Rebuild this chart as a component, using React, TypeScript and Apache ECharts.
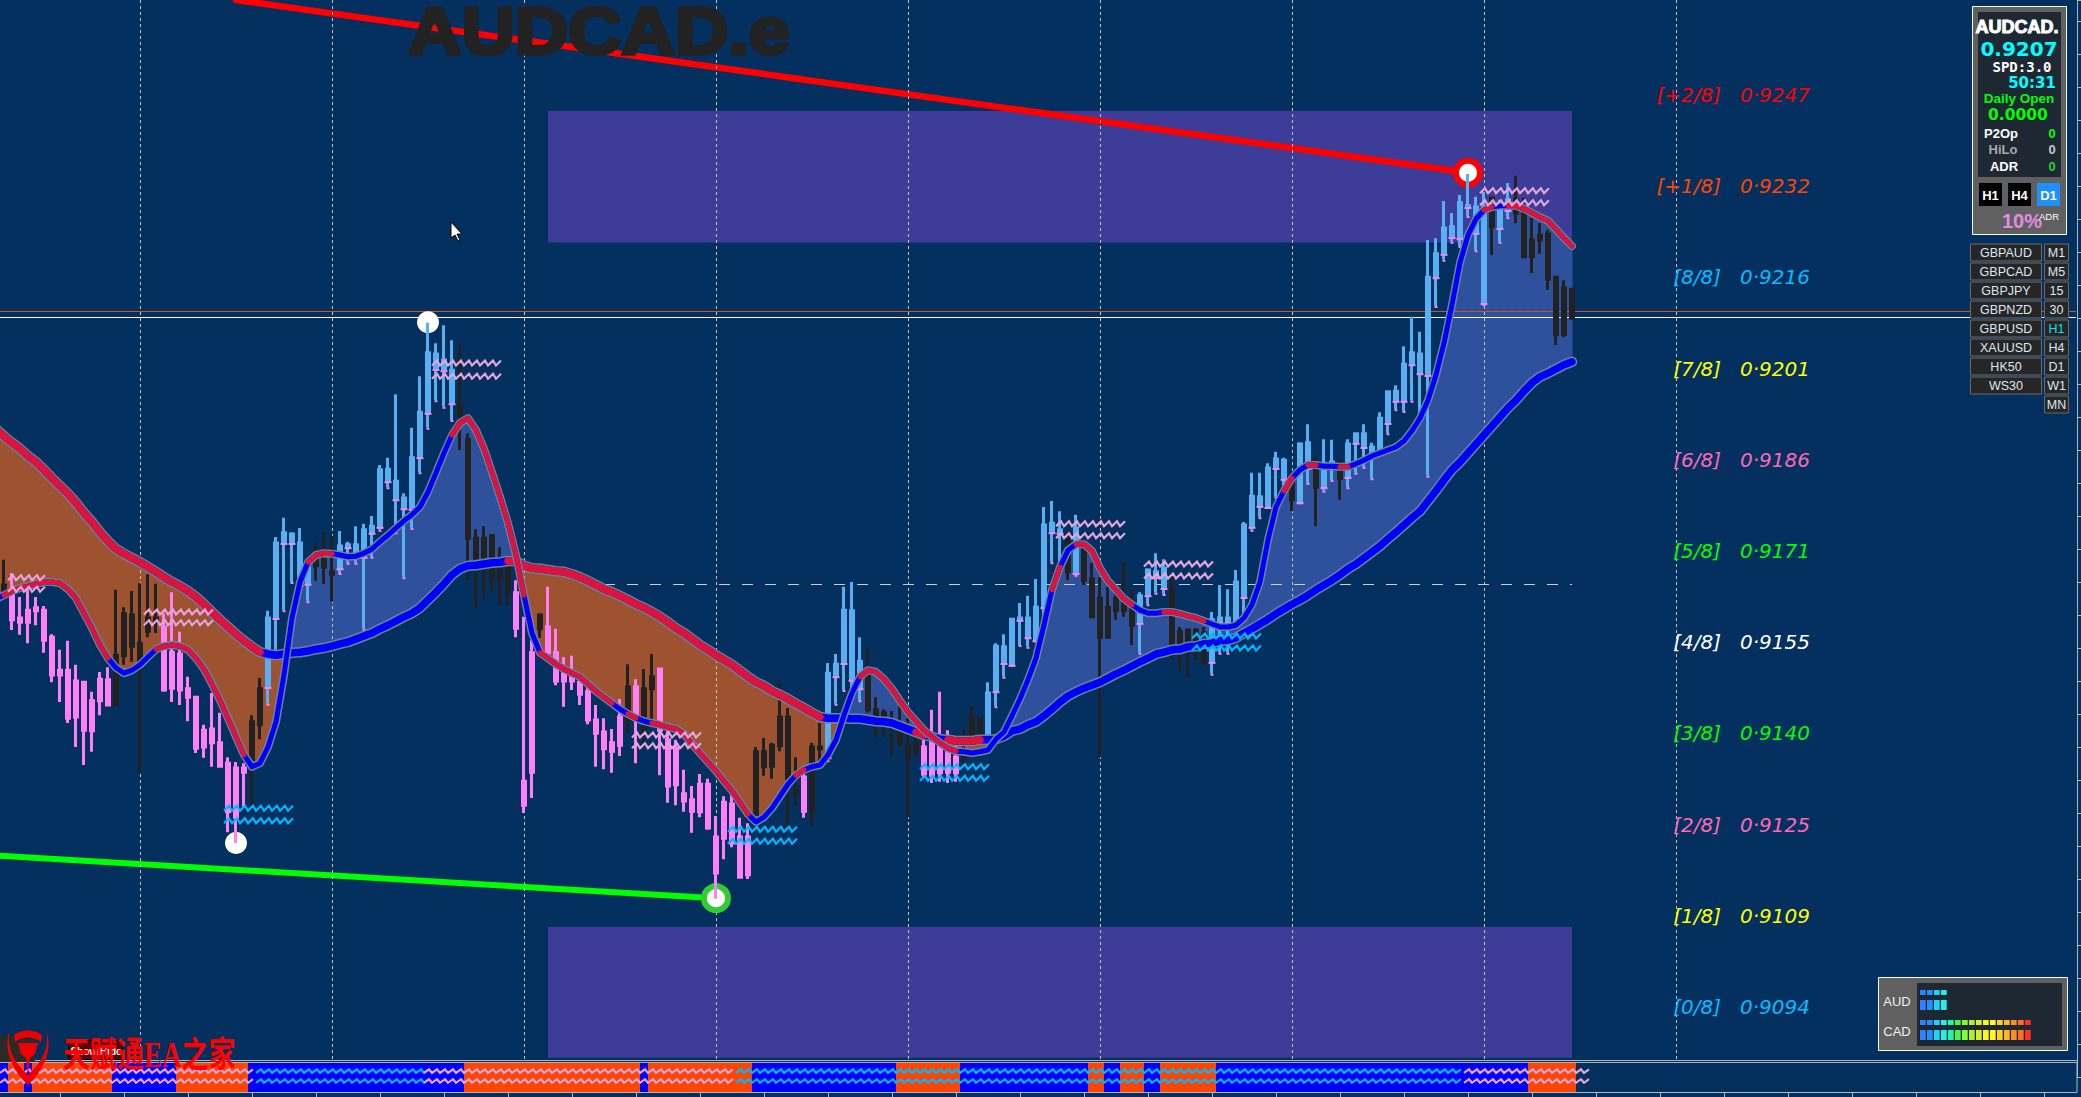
import React, { useEffect, useRef } from "react";
import * as echarts from "echarts";

const WIDTH = 2081;
const HEIGHT = 1097;
const LEAD_PX = 8;

// ---- Candle values, in points (1 point = 0.00001 of AUDCAD) ----
const candleKinds = (
  "kppppppppp" + "ppppkkkkkk" + "pppppppppp" + "pkkbbbbbbk" + "kkbbbbbbbb" +
  "bbbbbbbkkk" + "kkkkpppkpp" + "ppppppppkp" + "kkpppppppp" + "ppppkkkkkk" +
  "pkkbbbbbkk" + "kkkkkppppp" + "kkkbbbbbbb" + "bbbkbkkkkk" + "kkbbbbkkkk" +
  "kbbbbbbbbb" + "bkbbkbbkbb" + "bbbbbbbbbb" + "bbbbbbkbbk" + "kkkkkkk"
).split("");

const highs = [
  91667,91645,91605,91622,91605,91590,91543,91517,91532,91492,
  91463,91447,91480,91488,91617,91588,91615,91628,91643,91627,
  91578,91613,91547,91472,91438,91392,91445,91412,91338,91330,
  91328,91408,91470,91582,91705,91737,91713,91720,91658,91695,
  91713,91707,91715,91697,91723,91727,91740,91825,91837,91943,
  91778,91887,91973,92062,92028,92058,92033,92025,91878,91718,
  91723,91710,91688,91672,91633,91572,91533,91578,91622,91552,
  91505,91507,91463,91462,91425,91403,91385,91435,91493,91468,
  91485,91510,91485,91383,91367,91317,91290,91310,91302,91240,
  91273,91275,91237,91228,91355,91370,91362,91463,91420,91338,
  91312,91362,91395,91495,91510,91622,91630,91538,91520,91438,
  91418,91415,91423,91403,91403,91375,91417,91447,91383,91367,
  91385,91422,91402,91463,91528,91543,91570,91595,91607,91635,
  91755,91765,91748,91705,91742,91695,91662,91638,91622,91620,
  91662,91617,91613,91653,91678,91668,91638,91555,91550,91553,
  91555,91580,91625,91618,91650,91730,91812,91812,91828,91847,
  91837,91800,91863,91893,91838,91868,91867,91835,91868,91877,
  91893,91862,91913,91947,91958,92023,92072,92047,92200,92203,
  92265,92245,92275,92310,92272,92280,92270,92267,92295,92307,
  92270,92237,92228,92217,92140,92133,92120,
];
const bodyTops = [
  91625,91608,91570,91583,91587,91583,91538,91483,91483,91465,
  91463,91432,91468,91467,91508,91577,91575,91528,91570,91570,
  91555,91513,91510,91452,91438,91383,91385,91362,91328,91320,
  91320,91397,91452,91570,91695,91712,91710,91695,91658,91667,
  91668,91647,91690,91692,91692,91717,91723,91817,91818,91798,
  91770,91837,91913,92012,92010,92000,91983,91923,91868,91703,
  91703,91707,91655,91667,91612,91298,91512,91575,91555,91512,
  91477,91472,91463,91447,91400,91380,91362,91405,91455,91455,
  91452,91472,91485,91367,91353,91277,91267,91293,91293,91205,
  91263,91260,91205,91205,91347,91347,91358,91405,91405,91283,
  91305,91355,91355,91478,91493,91583,91582,91498,91483,91417,
  91412,91400,91388,91355,91362,91355,91363,91355,91355,91338,
  91348,91405,91402,91445,91523,91522,91568,91570,91570,91588,
  91725,91728,91717,91703,91720,91692,91635,91603,91588,91603,
  91600,91587,91607,91650,91647,91653,91620,91548,91550,91550,
  91545,91567,91570,91570,91630,91725,91773,91772,91820,91835,
  91833,91800,91860,91862,91828,91828,91830,91825,91860,91877,
  91877,91855,91903,91947,91948,91993,92012,92010,92138,92177,
  92220,92222,92262,92257,92255,92255,92270,92258,92267,92267,
  92247,92200,92208,92210,92138,92120,92118,
];
const bodyBottoms = [
  91612,91567,91563,91563,91582,91533,91475,91475,91403,91405,
  91383,91382,91432,91425,91425,91507,91523,91487,91548,91563,
  91450,91453,91450,91438,91353,91355,91362,91323,91247,91238,
  91313,91322,91392,91455,91570,91695,91695,91625,91627,91657,
  91655,91643,91653,91688,91672,91672,91712,91722,91798,91768,
  91753,91752,91838,91912,91985,91983,91928,91908,91703,91670,
  91673,91635,91637,91612,91553,91258,91313,91552,91512,91465,
  91465,91465,91443,91400,91378,91352,91348,91358,91400,91400,
  91380,91452,91383,91290,91292,91265,91248,91247,91220,91145,
  91203,91195,91138,91142,91242,91322,91323,91357,91303,91278,
  91248,91247,91352,91338,91473,91495,91467,91453,91417,91408,
  91403,91395,91362,91338,91348,91310,91308,91312,91313,91312,
  91337,91367,91378,91375,91448,91495,91492,91567,91538,91533,
  91588,91713,91712,91647,91645,91633,91572,91538,91538,91582,
  91582,91558,91562,91608,91638,91620,91520,91520,91522,91530,
  91497,91497,91563,91563,91563,91605,91722,91757,91755,91820,
  91802,91767,91763,91820,91788,91788,91825,91803,91805,91862,
  91855,91845,91847,91895,91932,91932,91993,91978,91975,92138,
  92177,92205,92203,92255,92212,92095,92222,92220,92250,92245,
  92172,92172,92200,92135,92042,92043,92070,
];
const lows = [
  91605,91550,91542,91528,91558,91512,91463,91430,91395,91355,
  91325,91347,91408,91425,91425,91492,91497,91312,91538,91545,
  91447,91430,91425,91398,91345,91337,91322,91322,91213,91195,
  91255,91258,91368,91427,91517,91583,91630,91617,91598,91632,
  91627,91597,91645,91662,91662,91552,91672,91717,91788,91713,
  91638,91720,91813,91887,91933,91922,91900,91850,91633,91588,
  91602,91615,91592,91592,91538,91245,91270,91537,91500,91458,
  91422,91450,91425,91393,91322,91318,91312,91340,91378,91328,
  91362,91400,91308,91262,91258,91247,91212,91238,91217,91102,
  91168,91188,91138,91135,91242,91307,91302,91348,91223,91258,
  91237,91223,91328,91333,91427,91450,91445,91433,91412,91372,
  91372,91340,91355,91238,91338,91305,91295,91297,91295,91297,
  91328,91362,91362,91375,91423,91472,91492,91525,91522,91532,
  91555,91663,91648,91633,91642,91625,91572,91338,91538,91567,
  91572,91525,91512,91593,91612,91610,91500,91482,91472,91500,
  91492,91477,91512,91512,91563,91567,91717,91738,91755,91772,
  91780,91748,91763,91795,91723,91782,91800,91767,91788,91812,
  91822,91803,91847,91878,91918,91915,91932,91905,91807,92090,
  92167,92197,92190,92240,92183,92093,92175,92197,92238,92228,
  92170,92145,92177,92117,92025,92038,92067,
];

// ---- Moving averages. The first entry of each belongs to the bar left of the screen ----
const fastMa = [
  91602,
  91608,91615,91620,91623,91627,91630,91630,91628,91618,91603,
  91578,91553,91525,91503,91487,91478,91483,91492,91505,91518,
  91523,91525,91523,91517,91503,91485,91460,91433,91403,91372,
  91342,91322,91328,91355,91397,91475,91570,91630,91663,91675,
  91678,91677,91675,91672,91673,91678,91685,91697,91708,91720,
  91732,91742,91755,91780,91812,91845,91875,91895,91903,91883,
  91852,91813,91772,91728,91675,91608,91545,91512,91503,91493,
  91485,91478,91472,91460,91448,91438,91428,91418,91410,91403,
  91398,91395,91392,91388,91385,91377,91360,91345,91330,91315,
  91298,91282,91263,91243,91230,91238,91253,91273,91293,91308,
  91317,91322,91325,91342,91367,91408,91445,91472,91483,91480,
  91468,91452,91432,91413,91398,91383,91372,91362,91353,91348,
  91347,91345,91347,91350,91368,91380,91407,91435,91467,91503,
  91558,91617,91655,91683,91693,91693,91682,91653,91632,91617,
  91602,91592,91583,91578,91578,91580,91580,91577,91573,91570,
  91565,91560,91555,91555,91558,91570,91592,91630,91700,91755,
  91782,91803,91817,91825,91825,91823,91823,91822,91822,91827,
  91833,91840,91845,91850,91855,91865,91882,91903,91933,91975,
  92028,92092,92162,92208,92235,92250,92255,92257,92257,92257,
  92252,92245,92238,92232,92218,92203,92190,
];
const slowMa = [
  91885,
  91873,91862,91852,91840,91830,91817,91803,91790,91777,91762,
  91745,91730,91713,91698,91685,91677,91670,91663,91655,91647,
  91638,91630,91623,91615,91605,91593,91580,91567,91555,91543,
  91532,91522,91513,91510,91508,91510,91512,91513,91515,91518,
  91520,91523,91527,91530,91535,91540,91545,91552,91558,91565,
  91572,91578,91587,91600,91613,91627,91642,91652,91657,91658,
  91660,91662,91663,91665,91665,91657,91653,91652,91650,91648,
  91647,91643,91638,91632,91625,91618,91613,91607,91600,91593,
  91587,91580,91572,91563,91553,91545,91535,91525,91517,91508,
  91500,91492,91482,91472,91463,91457,91448,91442,91435,91427,
  91420,91412,91405,91403,91403,91403,91402,91402,91400,91398,
  91397,91395,91390,91385,91380,91375,91372,91368,91367,91365,
  91365,91365,91367,91367,91368,91373,91382,91385,91392,91397,
  91407,91418,91430,91440,91447,91453,91458,91463,91470,91477,
  91483,91490,91497,91503,91510,91513,91517,91518,91522,91523,
  91527,91528,91532,91533,91537,91545,91552,91560,91568,91577,
  91585,91593,91600,91608,91617,91625,91633,91642,91652,91660,
  91670,91680,91690,91702,91713,91725,91737,91748,91765,91782,
  91800,91817,91830,91845,91860,91875,91890,91905,91920,91933,
  91948,91962,91972,91978,91985,91992,91997,
];
// bars (inclusive) where each average is drawn red instead of blue
const fastRedBars = [
  [0,13],[19,30],[38,41],[56,65],[67,76],[78,79],[81,93],[99,100],[107,119],
  [131,132],[134,141],[145,150],[160,161],[163,164],[167,168],[185,186],[188,196],
];
const slowRedBars = [[-1,32],[63,102],[114,115],[118,122]];

// ---- Marks ----
const gridBars = [17,41,65,89,113,137,161,185,209];
const zoneBands = [[92415,92196],[91055,90837]];
const zoneFirstBar = 68;
const zoneLastBar = 196;
const bidPts = 92072;
const askPts = 92082;
const dashPts = 91627;
const dashFirstBar = 75;
const resistance = [[29,92600],[183,92312]];
const support = [[-1,91174],[89,91103]];
const whiteDots = [[29,91195],[53,92063]];
const redRing = [[183,92312]];
const greenRing = [[89,91103]];
// first bar, last bar, upper row, lower row, colour (0 plum, 1 cyan), height of a wave
const waveMarks = [
  [0,4,91637,91618,0,2.5],[17,25,91580,91562,0,2.5],[27,35,91253,91232,1,2.5],[53,61,91995,91973,0,2.5],
  [78,86,91375,91357,0,2.5],[90,98,91218,91198,1,2.5],[114,122,91322,91303,1,2.5],[131,139,91727,91707,0,2.5],
  [142,150,91660,91640,0,2.5],[148,156,91540,91520,1,2.5],[184,192,92282,92262,0,2.5],
];
// first bar, last bar, colour
const stripWaves = [[-1,30,0],[31,52,1],[52,90,0],[91,181,1],[182,197,0]];
// a run of this strip starts at each of these bars, colours alternate from blue
const stripStarts = [0,1,3,4,14,22,31,58,80,81,94,112,120,136,138,140,143,145,152,191];
const stripEnd = 197;

const murrayLabels = ["[+2/8]","[+1/8]","[8/8]","[7/8]","[6/8]","[5/8]","[4/8]","[3/8]","[2/8]","[1/8]","[0/8]"];
const murrayValues = ["0·9247","0·9232","0·9216","0·9201","0·9186","0·9171","0·9155","0·9140","0·9125","0·9109","0·9094"];
const murrayColours = ["#ff0000","#ff4500","#00bfff","#ffff00","#ff69b4","#00ff00","#ffffff","#00ff00","#ff69b4","#ffff00","#00bfff"];

const symbols = ["GBPAUD","GBPCAD","GBPJPY","GBPNZD","GBPUSD","XAUUSD","HK50","WS30"];
const periods = ["M1","M5","15","30","H1","H4","D1","W1","MN"];
const meterColours = ["#3080ff","#2090ff","#20d0ff","#20f0e8","#20f8a8","#40f840","#80ff30","#b0f030","#d8f020","#f8f820","#fff820","#ffd020","#ffb820","#ff9020","#ff7020","#ff3020"];
const audLevel = 4;
const cadLevel = 16;

const BG = "#03305f";
const BROWN = "#9e5330";
const ALONG = "#2e519c";
const OUTLINE = "#6c8298";
const RED = "#dc143c";
const BLUE = "#0000ff";
const PINK = "#ff80f5";
const SKY = "#5aaef2";
const BLACK = "#212121";
const WAVE = ["#e4a4dc", "#00b8ff"];
const LEAD = 1;
const AXIS_TOP = 92600;
const AXIS_BOTTOM = 90805;
const BAR_COUNT = 261;

echarts.graphic.registerShape(
  "bullLogo",
  echarts.graphic.extendPath(
    "M2 0 C-6 20 6 42 20 55 C34 42 46 20 38 0 C42 18 34 32 20 45 C6 32 -2 18 2 0 Z " +
      "M6 5 C14 -1 26 -1 34 5 L33 12 C26 6 14 6 7 12 Z " +
      "M10 13 L30 13 L27 24 L22 28 L20 46 L18 28 L13 24 Z",
    {}
  )
);

const n = fastMa.length;
const categories = Array.from({ length: BAR_COUNT }, (_, k) => String(k - LEAD));

function redOnly(vals: number[], ranges: number[][]) {
  return vals.map((v, k) => (ranges.some(([s, e]) => k - LEAD >= s && k - LEAD <= e) ? v : null));
}

function candlesOf(kind: string) {
  const out: any[] = [["-", "-", "-", "-"]];
  candleKinds.forEach((c, i) => {
    if (c !== kind) out.push(["-", "-", "-", "-"]);
    else if (c === "b") out.push([bodyBottoms[i], bodyTops[i], lows[i], highs[i]]);
    else out.push([bodyTops[i], bodyBottoms[i], lows[i], highs[i]]);
  });
  return out;
}

function candleSeries(kind: string, colour: string) {
  return {
    type: "candlestick",
    xAxisIndex: 0,
    yAxisIndex: 0,
    z: 6,
    barWidth: 4,
    silent: true,
    data: candlesOf(kind),
    itemStyle: {
      color: colour,
      color0: colour,
      borderColor: colour,
      borderColor0: colour,
      borderColorDoji: colour,
      borderWidth: 3,
    },
  };
}

function lineSeries(data: any[], colour: string, width: number, z: number, connect = false) {
  return {
    type: "line",
    xAxisIndex: 0,
    yAxisIndex: 0,
    z,
    silent: true,
    data,
    showSymbol: false,
    symbol: "none",
    connectNulls: connect,
    lineStyle: { color: colour, width, cap: "round", join: "round" },
  };
}

function zigzag(x0: number, x1: number, y: number, amp: number) {
  const pts: number[][] = [];
  let x = x0;
  let up = true;
  while (x <= x1) {
    pts.push([x, y + (up ? amp : -amp)]);
    x += up ? 5 : 3;
    up = !up;
  }
  return pts;
}

function renderMarkWave(_: any, api: any) {
  const s = api.value(0);
  const e = api.value(1);
  const colour = WAVE[api.value(4)];
  const amp = api.value(5);
  const x0 = api.coord([s, api.value(2)])[0] + 4;
  const x1 = x0 + (e - s) * 8 + 5;
  const children = [api.value(2), api.value(3)].map((v) => ({
    type: "polyline",
    shape: { points: zigzag(x0, x1, api.coord([s, v])[1], amp) },
    style: { stroke: colour, fill: "none", lineWidth: 2.2 },
  }));
  return { type: "group", children };
}

function renderFill(_: any, api: any) {
  const k = api.value(0);
  const d0 = fastMa[k] - slowMa[k];
  const d1 = fastMa[k + 1] - slowMa[k + 1];
  const a0 = api.coord([k, fastMa[k]]);
  const a1 = api.coord([k + 1, fastMa[k + 1]]);
  const b0 = api.coord([k, slowMa[k]]);
  const b1 = api.coord([k + 1, slowMa[k + 1]]);
  const poly = (points: number[][], d: number) => {
    const c = d >= 0 ? ALONG : BROWN;
    return { type: "polygon", shape: { points }, style: { fill: c, stroke: c, lineWidth: 1 } };
  };
  if (d0 * d1 < 0) {
    const t = d0 / (d0 - d1);
    const m = [a0[0] + (a1[0] - a0[0]) * t, a0[1] + (a1[1] - a0[1]) * t];
    return { type: "group", children: [poly([a0, m, b0], d0), poly([m, a1, b1], d1)] };
  }
  return poly([a0, a1, b1, b0], d0 + d1);
}

function renderBlueFoot(_: any, api: any) {
  const body = api.coord([api.value(0), api.value(1)]);
  const low = api.coord([api.value(0), api.value(2)]);
  return {
    type: "group",
    children: [
      { type: "rect", shape: { x: body[0] - 3.5, y: body[1], width: 7, height: 2 }, style: { fill: PINK } },
      { type: "rect", shape: { x: low[0] - 1.5, y: low[1], width: 3, height: 2 }, style: { fill: PINK } },
    ],
  };
}

function txt(text: string, x: number, y: number, fill: string, font: string, align = "center") {
  return {
    type: "text",
    z: 110,
    silent: true,
    style: { text, x, y, fill, font, textAlign: align, textVerticalAlign: "middle" },
  };
}
function box(x: number, y: number, width: number, height: number, fill: string, stroke?: string, z = 105) {
  return {
    type: "rect",
    z,
    silent: true,
    shape: { x, y, width, height },
    style: stroke ? { fill, stroke, lineWidth: 1 } : { fill },
  };
}

function panelElements() {
  const els: any[] = [];
  const sans = '"Liberation Sans", Arial, sans-serif';
  const dj = '"DejaVu Sans", sans-serif';
  // big instrument title
  els.push({
    type: "text",
    z: 100,
    silent: true,
    x: 408,
    y: 31,
    scaleX: 1.12,
    style: {
      text: "AUDCAD.e",
      x: 0,
      y: 0,
      fill: "#222222",
      stroke: "#222222",
      lineWidth: 3.5,
      font: `bold 66px ${sans}`,
      textAlign: "left",
      textVerticalAlign: "middle",
      textShadowColor: "#ffffff",
      textShadowOffsetX: 1,
      textShadowOffsetY: 1,
      textShadowBlur: 0,
    },
  });
  // murray levels
  murrayLabels.forEach((t, k) => {
    const y = 95 + 91.2 * k;
    els.push(txt(t, 1721, y, murrayColours[k], `italic 20px ${dj}`, "right"));
    els.push(txt(murrayValues[k], 1740, y, murrayColours[k], `italic 20px ${dj}`, "left"));
  });
  // main panel
  els.push(box(1972.5, 6.5, 94, 228, "#606060", "#f2fff2"));
  els.push(box(1978, 12, 83, 165, "#1e2832"));
  els.push({
    type: "text",
    z: 110,
    silent: true,
    style: {
      text: "AUDCAD.",
      x: 2017,
      y: 27,
      fill: "#ffffff",
      stroke: "#ffffff",
      lineWidth: 1,
      font: `bold 18px ${sans}`,
      textAlign: "center",
      textVerticalAlign: "middle",
    },
  });
  els.push(txt("0.9207", 2019, 49, "#00ffff", `bold 20px ${dj}`));
  els.push(txt("SPD:3.0", 2022, 67, "#ffffff", 'bold 14px "DejaVu Sans Mono", monospace'));
  els.push(txt("50:31", 2032, 83, "#00ffff", `bold 15px ${dj}`));
  els.push(txt("Daily Open", 2019, 98.5, "#00ff00", `bold 13.5px ${sans}`));
  els.push(txt("0.0000", 2018, 115, "#00ff00", `bold 15.5px ${dj}`));
  els.push(txt("P2Op", 2001, 133, "#ffffff", `bold 13px ${sans}`));
  els.push(txt("0", 2052, 133, "#00ff00", `bold 13px ${sans}`));
  els.push(txt("HiLo", 2003, 149, "#a9a9a9", `bold 13px ${sans}`));
  els.push(txt("0", 2052, 149, "#c8c8c8", `bold 13px ${sans}`));
  els.push(txt("ADR", 2004, 166, "#ffffff", `bold 13px ${sans}`));
  els.push(txt("0", 2052, 166, "#32cd32", `bold 13px ${sans}`));
  [["H1", 1979, "#000000"], ["H4", 2008, "#000000"], ["D1", 2037, "#1e90ff"]].forEach(([t, x, c]: any) => {
    els.push(box(x, 183, 23, 23, c));
    els.push(txt(t, x + 11.5, 195, "#ffffff", `bold 13px ${sans}`));
  });
  els.push(txt("10%", 2022, 221, "#e08ce0", `bold 20px ${sans}`));
  els.push(txt("ADR", 2049, 216, "#ffffff", `9.5px ${sans}`));
  // quick buttons
  symbols.forEach((t, k) => {
    const y = 244 + 19 * k;
    els.push(box(1970.5, y, 71, 17, "#262626", "#6a6a6a"));
    els.push(txt(t, 2006, y + 8.5, "#dce6f0", `12.5px ${sans}`));
  });
  periods.forEach((t, k) => {
    const y = 244 + 19 * k;
    els.push(box(2044.5, y, 24, 17, "#262626", "#6a6a6a"));
    els.push(txt(t, 2056.5, y + 8.5, t === "H1" ? "#00e8e8" : "#dce6f0", `12.5px ${sans}`));
  });
  // strength meter
  els.push(box(1878.5, 977.5, 189, 73, "#606060", "#f2fff2"));
  els.push(box(1917, 983, 145, 63, "#1e2832"));
  els.push(txt("AUD", 1897, 1001, "#f0f0f0", `13px ${sans}`));
  els.push(txt("CAD", 1897, 1031, "#f0f0f0", `13px ${sans}`));
  const meter = (count: number, ys: number[]) => {
    for (let k = 0; k < count; k++) {
      els.push(box(1920 + 7 * k, ys[0], 5.7, 5, meterColours[k]));
      els.push(box(1920 + 7 * k, ys[1], 5.7, 10, meterColours[k]));
    }
  };
  meter(audLevel, [990, 1000]);
  meter(cadLevel, [1020, 1030]);
  // strip frame
  els.push({
    type: "polyline",
    z: 60,
    silent: true,
    shape: { points: [[0, 1060.5], [2077, 1060.5]] },
    style: { stroke: "#b4b4b4", fill: "none", lineWidth: 1 },
  });
  els.push({
    type: "rect",
    z: 60,
    silent: true,
    shape: { x: -2, y: 1062.5, width: 2079, height: 30 },
    style: { fill: "none", stroke: "#b4b4b4", lineWidth: 1 },
  });
  // watermark
  els.push(box(0, 1036, 35, 26, "#2a2a2a", undefined, 70));
  els.push(box(68.5, 1040.5, 54, 19, "#5a0505", "#000000", 70));
  els.push(txt("Show/Hide", 96, 1051, "#ffffff", `bold 10px ${sans}`));
  els.push({
    type: "bullLogo",
    z: 120,
    silent: true,
    x: 8,
    y: 1030,
    scaleX: 1,
    scaleY: 1,
    style: { fill: "#ee0000" },
  });
  els.push({
    type: "text",
    z: 120,
    silent: true,
    x: 63,
    y: 1055,
    scaleY: 1.3,
    style: {
      text: "天赋通EA之家",
      x: 0,
      y: 0,
      fill: "#ff0000",
      font: 'bold 27px "Liberation Serif", "Noto Sans CJK SC", serif',
      textAlign: "left",
      textVerticalAlign: "middle",
    },
  });
  // mouse pointer
  els.push({
    type: "polygon",
    z: 125,
    silent: true,
    shape: { points: [[451, 222], [451, 238], [455, 235], [458, 241], [460, 240], [457, 234], [462, 234]] },
    style: { fill: "#ffffff", stroke: "#000000", lineWidth: 1 },
  });
  return [{ type: "group", x: LEAD_PX, y: 0, children: els }];
}

function buildOption() {
  const stripData: any[] = [null];
  stripStarts.forEach((s, k) => {
    const e = k + 1 < stripStarts.length ? stripStarts[k + 1] : stripEnd;
    const colour = k % 2 === 0 ? "#0000ff" : "#ff4500";
    for (let b = s; b < e; b++) stripData.push({ value: 1, itemStyle: { color: colour } });
  });
  const fullLine = (v: number) => [{ xAxis: 0, yAxis: v }, { xAxis: BAR_COUNT - 1, yAxis: v }];
  const blueFeet: number[][] = [];
  candleKinds.forEach((c, i) => {
    if (c === "b") blueFeet.push([i + LEAD, bodyBottoms[i], lows[i]]);
  });
  const sparse = (pairs: number[][]) => pairs.map(([i, v]) => [i + LEAD, v]);
  const sparseLine = (pairs: number[][]) =>
    fastMa.map((_, k) => {
      const p = pairs.find(([i]) => i + LEAD === k);
      return p ? p[1] : null;
    });
  const dots = (pairs: number[][], size: number, border: string | null, z: number) => ({
    type: "scatter",
    xAxisIndex: 0,
    yAxisIndex: 0,
    z,
    silent: true,
    symbolSize: size,
    data: sparse(pairs),
    itemStyle: border
      ? { color: "#ffffff", borderColor: border, borderWidth: 6, opacity: 1 }
      : { color: "#ffffff", opacity: 1 },
  });
  return {
    animation: false,
    backgroundColor: BG,
    tooltip: { show: false },
    grid: [
      { left: 0, top: 0, width: 2088, height: 1077 },
      { left: 0, top: 1063, width: 2088, height: 29 },
    ],
    xAxis: [
      { type: "category", gridIndex: 0, data: categories, show: false },
      {
        type: "category",
        gridIndex: 1,
        data: categories,
        axisLine: { show: false },
        axisLabel: { show: false },
        axisTick: {
          show: true,
          alignWithLabel: true,
          length: 5,
          interval: (k: number) => (k - LEAD + 1) % 8 === 0,
          lineStyle: { color: "#b4b4b4" },
        },
        splitLine: { show: false },
      },
    ],
    yAxis: [
      {
        type: "value",
        gridIndex: 0,
        min: AXIS_BOTTOM,
        max: AXIS_TOP,
        interval: 55,
        position: "right",
        offset: -3,
        axisLine: { show: true, lineStyle: { color: "#b4b4b4" } },
        axisTick: { show: true, length: 4, lineStyle: { color: "#b4b4b4" } },
        axisLabel: { show: false },
        splitLine: { show: false },
      },
      { type: "value", gridIndex: 1, min: 0, max: 1, show: false },
    ],
    graphic: { elements: panelElements() },
    series: [
      {
        type: "line",
        name: "zones",
        xAxisIndex: 0,
        yAxisIndex: 0,
        z: 1,
        silent: true,
        data: [],
        markArea: {
          silent: true,
          z: 1,
          itemStyle: { color: "#3d3d99", opacity: 1 },
          data: zoneBands.map(([top, bottom]) => [
            { xAxis: zoneFirstBar + LEAD, yAxis: top },
            { xAxis: zoneLastBar + LEAD, yAxis: bottom },
          ]),
        },
      },
      {
        type: "line",
        name: "rules",
        xAxisIndex: 0,
        yAxisIndex: 0,
        z: 2,
        silent: true,
        data: [],
        markLine: {
          silent: true,
          symbol: "none",
          label: { show: false },
          data: [
            ...gridBars.map((b) => [
              { xAxis: b + LEAD, yAxis: AXIS_TOP, lineStyle: { color: "#c4c8b8", width: 1, type: [3, 3] } },
              { xAxis: b + LEAD, yAxis: 90833 },
            ]),
            [{ ...fullLine(bidPts)[0], lineStyle: { color: "#ffffff", width: 1, type: "solid" } }, fullLine(bidPts)[1]],
            [{ ...fullLine(askPts)[0], lineStyle: { color: "#d2521e", width: 1, type: "solid" } }, fullLine(askPts)[1]],
            [
              { xAxis: dashFirstBar + LEAD, yAxis: dashPts, lineStyle: { color: "#cfcfc4", width: 1, type: [11, 12] } },
              { xAxis: zoneLastBar + LEAD, yAxis: dashPts },
            ],
          ],
        },
      },
      {
        type: "custom",
        name: "ribbon",
        xAxisIndex: 0,
        yAxisIndex: 0,
        z: 3,
        silent: true,
        renderItem: renderFill,
        encode: { x: 0, y: 1 },
        data: fastMa.slice(0, n - 1).map((v, k) => [k, v, slowMa[k]]),
      },
      lineSeries(sparseLine(resistance), "#ff0000", 6.5, 4, true),
      lineSeries(sparseLine(support), "#00ff00", 6, 4, true),
      dots(whiteDots, 22, null, 5),
      dots(redRing, 24, "#ff0000", 5),
      dots(greenRing, 24, "#32cd32", 5),
      candleSeries("k", BLACK),
      candleSeries("p", PINK),
      candleSeries("b", SKY),
      {
        type: "custom",
        name: "closeMarks",
        xAxisIndex: 0,
        yAxisIndex: 0,
        z: 7,
        silent: true,
        renderItem: renderBlueFoot,
        encode: { x: 0, y: 1 },
        data: blueFeet,
      },
      lineSeries(slowMa, OUTLINE, 10.5, 8),
      lineSeries(slowMa, BLUE, 7.5, 9),
      lineSeries(redOnly(slowMa, slowRedBars), RED, 7.5, 9),
      lineSeries(fastMa, OUTLINE, 8, 10),
      lineSeries(fastMa, BLUE, 5, 11),
      lineSeries(redOnly(fastMa, fastRedBars), RED, 5, 11),
      {
        type: "custom",
        name: "waves",
        xAxisIndex: 0,
        yAxisIndex: 0,
        z: 12,
        silent: true,
        renderItem: renderMarkWave,
        encode: { x: 0, y: 2 },
        data: waveMarks.map(([s, e, a, b, c, h]) => [s + LEAD, e + LEAD, a, b, c, h]),
      },
      {
        type: "bar",
        name: "strip",
        xAxisIndex: 1,
        yAxisIndex: 1,
        z: 12,
        silent: true,
        barWidth: "100%",
        data: stripData,
      },
      {
        type: "custom",
        name: "stripWaves",
        xAxisIndex: 1,
        yAxisIndex: 1,
        z: 13,
        silent: true,
        renderItem: renderMarkWave,
        encode: { x: 0, y: 2 },
        data: stripWaves.map(([s, e, c]) => [s + LEAD, e + LEAD, 0.72, 0.38, c, 1.8]),
      },
    ],
  };
}

export default function App() {
  const ref = useRef<HTMLDivElement>(null);
  useEffect(() => {
    document.body.style.margin = "0";
    document.body.style.overflow = "hidden";
    const chart = echarts.init(ref.current!, null, { renderer: "svg", width: WIDTH + LEAD_PX, height: HEIGHT });
    chart.setOption(buildOption() as any);
    return () => chart.dispose();
  }, []);
  return (
    <div
      ref={ref}
      style={{ position: "absolute", left: -LEAD_PX, top: 0, width: WIDTH + LEAD_PX, height: HEIGHT }}
    />
  );
}
